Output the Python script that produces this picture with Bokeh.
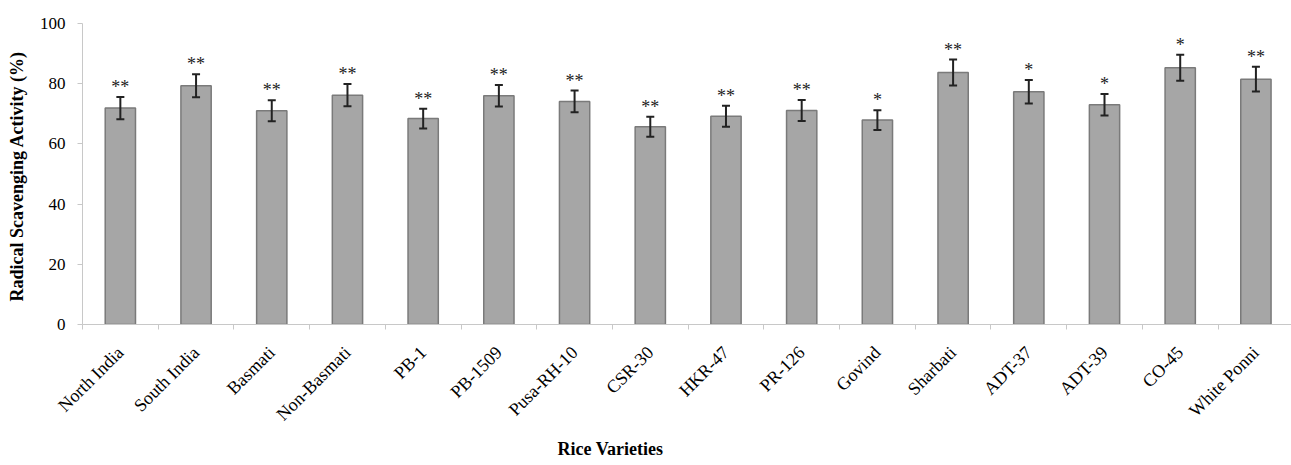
import math
from bokeh.plotting import figure
from bokeh.models import Range1d, FixedTicker, Whisker, TeeHead, ColumnDataSource, Title
from bokeh.core.properties import value
from bokeh.embed import file_html
from bokeh.resources import INLINE

varieties = ["North India", "South India", "Basmati", "Non-Basmati", "PB-1", "PB-1509",
             "Pusa-RH-10", "CSR-30", "HKR-47", "PR-126", "Govind", "Sharbati",
             "ADT-37", "ADT-39", "CO-45", "White Ponni"]
activity = [71.9, 79.3, 71.0, 76.2, 68.4, 76.0, 74.1, 65.7, 69.2, 71.1, 67.9, 83.7, 77.3, 73.0, 85.3, 81.5]
error = [3.7, 3.8, 3.5, 3.7, 3.3, 3.6, 3.6, 3.3, 3.5, 3.5, 3.3, 4.3, 3.9, 3.6, 4.3, 4.1]
significance = ["**", "**", "**", "**", "**", "**", "**", "**", "**", "**", "*", "**", "*", "*", "*", "**"]
y_ticks = [0, 20, 40, 60, 80, 100]

n = len(varieties)
centers = [i + 0.5 for i in range(n)]
bounds = list(range(n + 1))

src = ColumnDataSource(dict(
    x=centers, top=activity,
    upper=[a + e for a, e in zip(activity, error)],
    lower=[a - e for a, e in zip(activity, error)],
    sig=significance,
))

SERIF = "Liberation Serif"

p = figure(width=1291, height=463, output_backend="svg", toolbar_location=None,
           x_range=Range1d(0, 15.97), y_range=Range1d(0, 100),
           min_border_left=82, min_border_top=23, min_border_right=0, min_border_bottom=139)
p.outline_line_color = None
p.grid.visible = False
p.background_fill_color = "white"

p.vbar(x="x", top="top", width=0.4, bottom=0, source=src,
       fill_color="#a6a6a6", line_color="#7a7a7a", line_width=1.5)

w = Whisker(base="x", upper="upper", lower="lower", source=src, level="overlay",
            line_color="#222222", line_width=2,
            upper_head=TeeHead(size=8, line_color="#222222", line_width=2),
            lower_head=TeeHead(size=8, line_color="#222222", line_width=2))
p.add_layout(w)

p.text(x="x", y="upper", text="sig", source=src, text_align="center",
       text_baseline="middle", y_offset=-10, text_font=value(SERIF),
       text_font_size="18px", text_color="#222222")

# y axis
ya = p.yaxis[0]
ya.ticker = FixedTicker(ticks=y_ticks)
ya.axis_line_color = "#c8c8c8"
ya.major_tick_line_color = "#c8c8c8"
ya.major_tick_in = 0
ya.major_tick_out = 5
ya.minor_tick_line_color = None
ya.major_label_text_font = SERIF
ya.major_label_text_font_size = "17px"
ya.major_label_text_color = "black"
ya.major_label_standoff = 12
ya.axis_label = "Radical Scavenging Activity  (%)"
ya.axis_label_text_font = SERIF
ya.axis_label_text_font_size = "18px"
ya.axis_label_text_font_style = "bold"
ya.axis_label_text_color = "black"
ya.axis_label_standoff = 10

# x axis
xa = p.xaxis[0]
xa.ticker = FixedTicker(ticks=centers, minor_ticks=bounds)
xa.major_label_overrides = {c: v for c, v in zip(centers, varieties)}
xa.axis_line_color = "#c8c8c8"
xa.major_tick_line_color = None
xa.major_tick_in = 0
xa.major_tick_out = 0
xa.minor_tick_line_color = "#c8c8c8"
xa.minor_tick_in = 0
xa.minor_tick_out = 5
xa.major_label_orientation = math.pi / 4
xa.major_label_text_font = SERIF
xa.major_label_text_font_size = "18px"
xa.major_label_text_color = "black"
xa.major_label_standoff = 20

t = Title(text="Rice Varieties", align="left", offset=475, text_font=SERIF,
          text_font_size="18px", text_font_style="bold", text_color="black", standoff=4)
p.add_layout(t, "below")

open("out.html", "w").write(file_html(p, INLINE))
